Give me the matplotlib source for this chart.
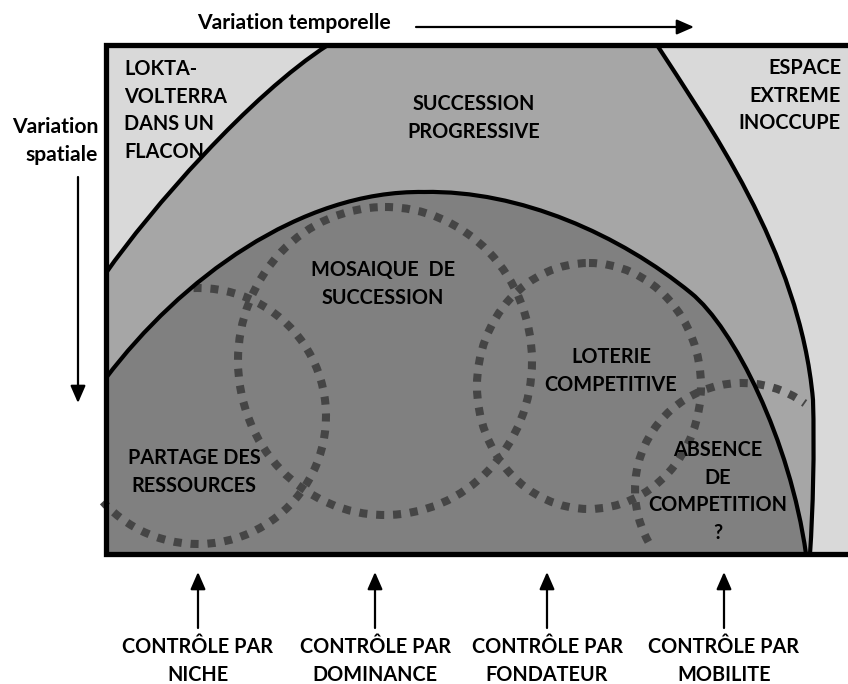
import matplotlib
matplotlib.use("Agg")
import matplotlib.pyplot as plt
from matplotlib.path import Path
from matplotlib.patches import PathPatch, Arc, Ellipse, Rectangle

plt.rcParams['font.family'] = ['Lato', 'DejaVu Sans']

# ---- colours
C_LIGHT = '#d9d9d9'
C_MID = '#a6a6a6'
C_DARK = '#808080'
C_DOT = '#454545'

# ---- frame (pixel space of the diagram)
FRAME_LEFT, FRAME_TOP, FRAME_BOTTOM, FRAME_RIGHT = 106, 45, 554, 848

# ---- zone boundaries (cubic Bezier control points)
left_curve = [(106, 273), (150, 210), (250, 95), (328, 45)]
right_curve_a = [(657, 45), (705, 120), (800, 250), (813, 400)]
right_curve_b = [(813, 400), (814.5, 450), (813, 510), (810, 554)]
dark_curve_a = [(106, 378), (180, 280), (300, 190), (424, 192)]
dark_curve_b = [(424, 192), (520, 190), (620, 235), (691, 293)]
dark_curve_c = [(691, 293), (734, 328), (790, 440), (806, 554)]

# ---- dotted circles: centre, width, height, theta1, theta2
circles = [
    ((198, 416), 256, 256, -92, 138),    # partage des ressources
    ((385, 361), 294, 308, 0, 360),      # mosaique de succession
    ((589, 386), 224, 246, 0, 360),      # loterie competitive
    ((742, 490), 214, 214, 151, 306),    # absence de competition
]

# ---- region labels: lines, x, y of first line, alignment
region_labels = [
    (["LOKTA-", "VOLTERRA", "DANS UN", "FLACON"], 124, 69, 'left'),
    (["SUCCESSION", "PROGRESSIVE"], 474, 104, 'center'),
    (["ESPACE", "EXTREME", "INOCCUPE"], 841, 68, 'right'),
    (["MOSAIQUE  DE", "SUCCESSION"], 383, 270, 'center'),
    (["LOTERIE", "COMPETITIVE"], 611, 357, 'center'),
    (["PARTAGE DES", "RESSOURCES"], 194, 458, 'center'),
    (["ABSENCE", "DE", "COMPETITION", "?"], 718, 450, 'center'),
]
LINE_STEP = 27.6

# ---- bottom controls
control_x = [198, 375, 547, 724]
control_labels = ["NICHE", "DOMINANCE", "FONDATEUR", "MOBILITE"]

FS = 14.3
FS_AXIS = 15.2

fig = plt.figure(figsize=(8.48, 6.84), dpi=100)
ax = fig.add_axes([0, 0, 1, 1])
ax.set_xlim(0, 848)
ax.set_ylim(684, 0)
ax.axis('off')


def bez(pts, start=True):
    verts = list(pts) if start else list(pts[1:])
    codes = ([Path.MOVETO] if start else []) + [Path.CURVE4] * 3
    return verts, codes


# mid-grey background of the frame
ax.add_patch(Rectangle((FRAME_LEFT, FRAME_TOP), FRAME_RIGHT - FRAME_LEFT,
                       FRAME_BOTTOM - FRAME_TOP, facecolor=C_MID,
                       edgecolor='none', zorder=1))

# light top-left zone
v = [(FRAME_LEFT, FRAME_TOP)] + [left_curve[3], left_curve[2], left_curve[1], left_curve[0]] + [(FRAME_LEFT, FRAME_TOP)]
c = [Path.MOVETO, Path.LINETO, Path.CURVE4, Path.CURVE4, Path.CURVE4, Path.CLOSEPOLY]
ax.add_patch(PathPatch(Path(v, c), facecolor=C_LIGHT, edgecolor='none', zorder=2))

# light right zone
v1, c1 = bez(right_curve_a)
v2, c2 = bez(right_curve_b, start=False)
v = v1 + v2 + [(FRAME_RIGHT, FRAME_BOTTOM), (FRAME_RIGHT, FRAME_TOP), (0, 0)]
c = c1 + c2 + [Path.LINETO, Path.LINETO, Path.CLOSEPOLY]
ax.add_patch(PathPatch(Path(v, c), facecolor=C_LIGHT, edgecolor='none', zorder=2))

# dark zone
va_, ca_ = bez(dark_curve_a)
vb_, cb_ = bez(dark_curve_b, start=False)
vc_, cc_ = bez(dark_curve_c, start=False)
v = va_ + vb_ + vc_ + [(FRAME_LEFT, FRAME_BOTTOM), (0, 0)]
c = ca_ + cb_ + cc_ + [Path.LINETO, Path.CLOSEPOLY]
ax.add_patch(PathPatch(Path(v, c), facecolor=C_DARK, edgecolor='none', zorder=2))

# dotted circles
for (cx, cy), w, h, t1, t2 in circles:
    if t2 - t1 >= 360:
        p = Ellipse((cx, cy), w, h, fill=False, edgecolor=C_DOT, lw=5.8,
                    linestyle=(0, (1.0, 1.1)), zorder=3)
    else:
        p = Arc((cx, cy), w, h, theta1=t1, theta2=t2, edgecolor=C_DOT, lw=5.8,
                linestyle=(0, (1.0, 1.1)), zorder=3)
    p.set_capstyle('butt')
    ax.add_patch(p)

# black boundary curves
for pts_list in ([left_curve], [right_curve_a, right_curve_b],
                 [dark_curve_a, dark_curve_b, dark_curve_c]):
    vv, cc = bez(pts_list[0])
    for seg in pts_list[1:]:
        v2, c2 = bez(seg, start=False)
        vv += v2
        cc += c2
    ax.add_patch(PathPatch(Path(vv, cc), facecolor='none', edgecolor='black',
                           lw=3.0, zorder=4, capstyle='butt'))

# frame lines
ax.plot([FRAME_RIGHT, FRAME_LEFT, FRAME_LEFT, FRAME_RIGHT],
        [FRAME_TOP, FRAME_TOP, FRAME_BOTTOM, FRAME_BOTTOM],
        color='black', lw=3.8, solid_joinstyle='miter', zorder=5)

# region labels
for lines, x, y0, ha in region_labels:
    for i, line in enumerate(lines):
        ax.text(x, y0 + i * LINE_STEP, line, ha=ha, va='center', fontsize=FS,
                fontweight='bold', color='black', zorder=6)

# axis annotations
arrow_style = '-|>,head_length=0.8,head_width=0.35'
ax.text(294, 23, "Variation temporelle", ha='center', va='center', fontsize=FS_AXIS,
        fontweight='bold')
ax.annotate('', xy=(694, 27), xytext=(416, 27),
            arrowprops=dict(arrowstyle=arrow_style, lw=1.6, color='black',
                            mutation_scale=13, shrinkA=0, shrinkB=0))
ax.text(98, 127, "Variation", ha='right', va='center', fontsize=FS_AXIS, fontweight='bold')
ax.text(98, 155, "spatiale", ha='right', va='center', fontsize=FS_AXIS, fontweight='bold')
ax.annotate('', xy=(78, 403), xytext=(78, 177),
            arrowprops=dict(arrowstyle=arrow_style, lw=1.6, color='black',
                            mutation_scale=13, shrinkA=0, shrinkB=0))

for x, lab in zip(control_x, control_labels):
    ax.annotate('', xy=(x, 572), xytext=(x, 628),
                arrowprops=dict(arrowstyle=arrow_style, lw=1.6, color='black',
                                mutation_scale=13, shrinkA=0, shrinkB=0))
    ax.text(x, 647, "CONTRÔLE PAR", ha='center', va='center', fontsize=FS,
            fontweight='bold')
    ax.text(x, 675, lab, ha='center', va='center', fontsize=FS, fontweight='bold')

fig.savefig('out.png', dpi=100)
